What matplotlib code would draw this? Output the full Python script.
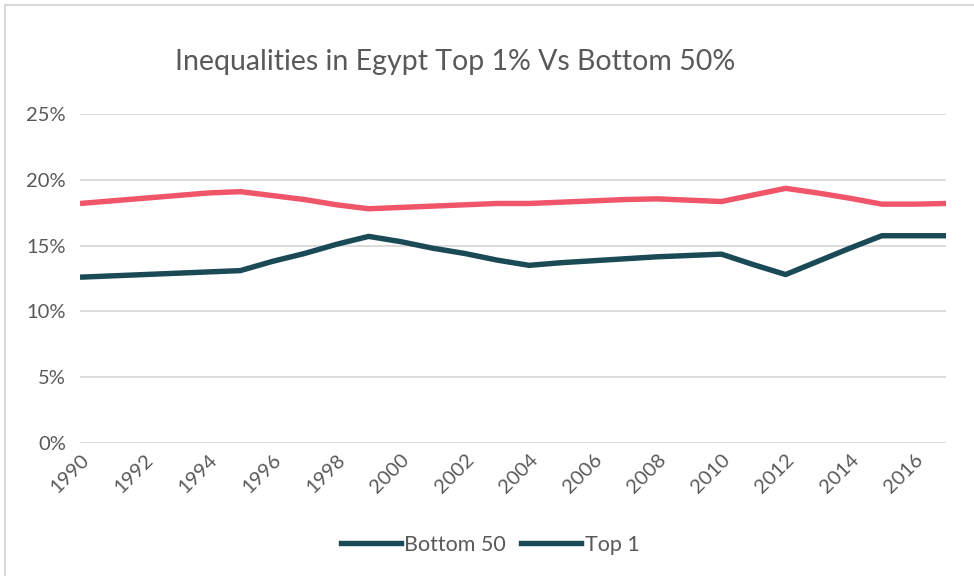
import matplotlib.pyplot as plt
from matplotlib.lines import Line2D
from matplotlib.patches import Rectangle
from matplotlib.ticker import PercentFormatter

years = list(range(1990, 2018))
bottom_50 = [18.2, 18.4, 18.6, 18.8, 19.0, 19.1, 18.8, 18.5, 18.1, 17.8,
             17.9, 18.0, 18.1, 18.2, 18.2, 18.3, 18.4, 18.5, 18.55, 18.45,
             18.35, 18.85, 19.35, 19.0, 18.6, 18.15, 18.15, 18.2]
top_1 = [12.6, 12.7, 12.8, 12.9, 13.0, 13.1, 13.8, 14.4, 15.1, 15.7,
         15.3, 14.8, 14.4, 13.9, 13.5, 13.7, 13.85, 14.0, 14.15, 14.25,
         14.35, 13.55, 12.8, 13.8, 14.8, 15.75, 15.75, 15.75]
tick_years = list(range(1990, 2017, 2))

red = '#F0556A'
teal = '#1B4A57'
grey_text = '#595959'
grid = '#D9D9D9'

plt.rcParams['font.family'] = ['Lato', 'DejaVu Sans']

fig = plt.figure(figsize=(9.74, 5.76), dpi=100)
# chart border (only top/left visible in the reference)
fig.patches.append(Rectangle((5 / 974, -0.1), 1.2, 1 - 5 / 576 + 0.1,
                             transform=fig.transFigure, fill=False,
                             edgecolor=grid, linewidth=1.5))

ax = fig.add_axes([80 / 974, 1 - 443 / 576, 866 / 974, (443 - 114) / 576])

ax.plot(years, bottom_50, color=red, linewidth=3.9, solid_capstyle='butt',
        label='Bottom 50')
ax.plot(years, top_1, color=teal, linewidth=3.9, solid_capstyle='butt',
        label='Top 1')

ax.set_xlim(1990, 2017)
ax.set_ylim(0, 25)
ax.set_yticks([0, 5, 10, 15, 20, 25])
ax.yaxis.set_major_formatter(PercentFormatter(decimals=0))
ax.set_xticks(tick_years)
ax.set_xticklabels([str(y) for y in tick_years], rotation=45, ha='right',
                   va='top', rotation_mode='anchor')
ax.tick_params(axis='both', length=0, labelsize=14.5, colors=grey_text)
ax.tick_params(axis='y', pad=10)
ax.tick_params(axis='x', pad=6)
ax.grid(axis='y', color=grid, linewidth=1.3)
ax.set_axisbelow(True)
for s in ax.spines.values():
    s.set_visible(False)

fig.text(455 / 974, 1 - 62 / 576, 'Inequalities in Egypt Top 1% Vs Bottom 50%',
         ha='center', va='center', fontsize=20.5, color=grey_text)

handles = [Line2D([], [], color=teal, linewidth=3.9),
           Line2D([], [], color=teal, linewidth=3.9)]
fig.legend(handles, ['Bottom 50', 'Top 1'], loc='center',
           bbox_to_anchor=(490 / 974, 1 - 545 / 576), ncol=2, frameon=False,
           fontsize=15.5, labelcolor=grey_text, handlelength=2.8,
           handletextpad=0.15, columnspacing=0.7)

fig.savefig('out.png', dpi=100)
